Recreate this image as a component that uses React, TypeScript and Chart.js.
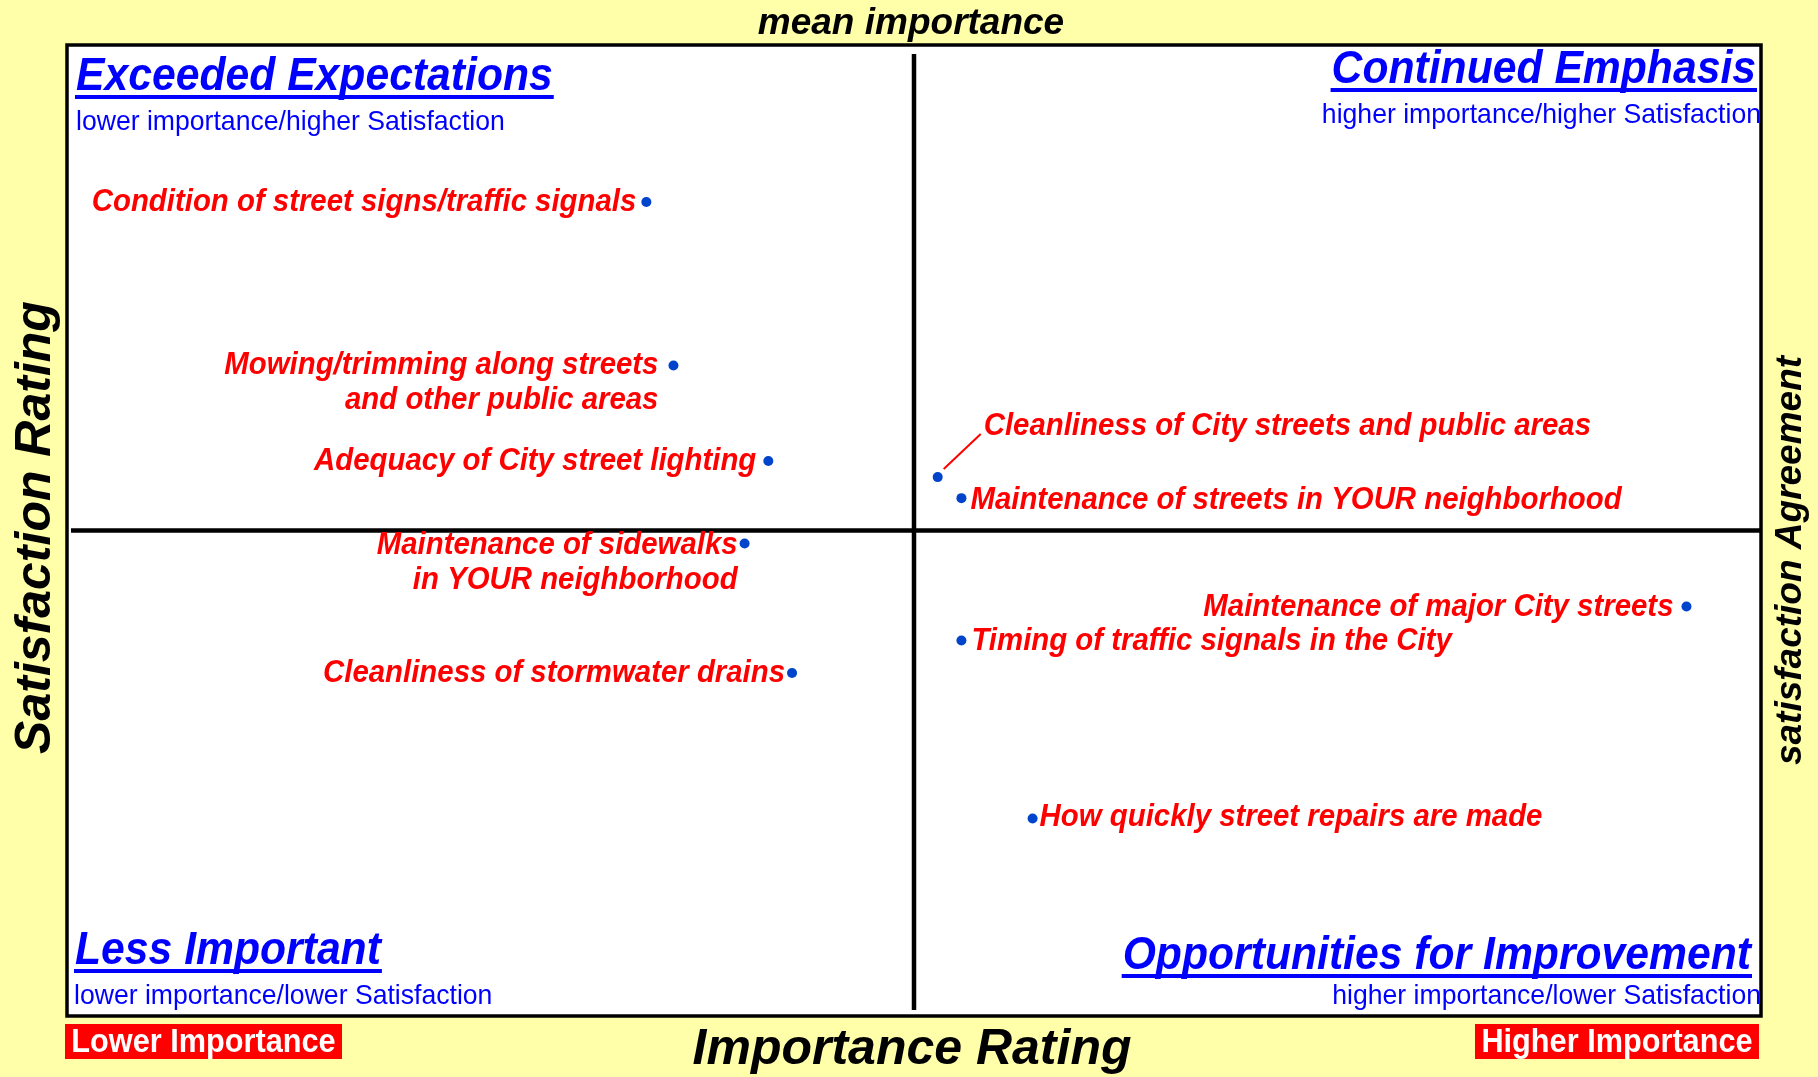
import React, { useEffect, useRef } from "react";
import { Chart, registerables } from "chart.js";

Chart.register(...registerables);

// ---- Data ----
const ITEMS: string[] = [
  "Condition of street signs/traffic signals",
  "Mowing/trimming along streets and other public areas",
  "Adequacy of City street lighting",
  "Cleanliness of City streets and public areas",
  "Maintenance of streets in YOUR neighborhood",
  "Maintenance of sidewalks in YOUR neighborhood",
  "Cleanliness of stormwater drains",
  "Maintenance of major City streets",
  "Timing of traffic signals in the City",
  "How quickly street repairs are made",
];
const IMPORTANCE: number[] = [17.1, 17.9, 20.7, 25.7, 26.4, 20.0, 21.4, 47.8, 26.4, 28.5];
const SATISFACTION: number[] = [80.3, 70.2, 64.3, 63.3, 62.0, 59.2, 51.2, 55.3, 53.2, 42.2];
const LABEL_LINES: string[][] = [
  ["Condition of street signs/traffic signals"],
  ["Mowing/trimming along streets", "and other public areas"],
  ["Adequacy of City street lighting"],
  ["Cleanliness of City streets and public areas"],
  ["Maintenance of streets in YOUR neighborhood"],
  ["Maintenance of sidewalks", "in YOUR neighborhood"],
  ["Cleanliness of stormwater drains"],
  ["Maintenance of major City streets"],
  ["Timing of traffic signals in the City"],
  ["How quickly street repairs are made"],
];
const MEAN_IMPORTANCE = 25;
const MEAN_SATISFACTION = 60;
const X_MIN = 0;
const X_MAX = 50;
const Y_MIN = 30;
const Y_MAX = 90;

const QUADRANT_TITLES: string[] = [
  "Exceeded Expectations",
  "Continued Emphasis",
  "Less Important",
  "Opportunities for Improvement",
];
const QUADRANT_SUBTITLES: string[] = [
  "lower importance/higher Satisfaction",
  "higher importance/higher Satisfaction",
  "lower importance/lower Satisfaction",
  "higher importance/lower Satisfaction",
];
const X_TITLE = "Importance Rating";
const Y_TITLE = "Satisfaction Rating";
const TOP_TITLE = "mean importance";
const RIGHT_TITLE = "satisfaction Agreement";
const LOW_TAG = "Lower Importance";
const HIGH_TAG = "Higher Importance";

// ---- Label placement (offsets from the point, px) ----
const LABEL_PLACE: { side: "left" | "right"; dx: number; dy: number; leader?: boolean }[] = [
  { side: "left", dx: -10, dy: 0 },
  { side: "left", dx: -15, dy: 0 },
  { side: "left", dx: -12, dy: 0 },
  { side: "right", dx: 46, dy: -51, leader: true },
  { side: "right", dx: 9, dy: 2 },
  { side: "left", dx: -7, dy: 2 },
  { side: "left", dx: -7, dy: 0 },
  { side: "left", dx: -13, dy: 1 },
  { side: "right", dx: 10, dy: 1 },
  { side: "right", dx: 7, dy: -1 },
];

const FONT = '"Liberation Sans", Arial, Helvetica, sans-serif';
const BG = "#FFFFAA";

function fillScaled(ctx: CanvasRenderingContext2D, text: string, x: number, y: number, sx: number) {
  ctx.save();
  ctx.translate(x, y);
  ctx.scale(sx, 1);
  ctx.fillText(text, 0, 0);
  ctx.restore();
}

const quadrantPlugin = {
  id: "quadrantPlugin",
  beforeDraw(chart: any) {
    const { ctx, width, height, chartArea } = chart;
    ctx.save();
    ctx.fillStyle = BG;
    ctx.fillRect(0, 0, width, height);
    ctx.fillStyle = "#FFFFFF";
    ctx.fillRect(chartArea.left, chartArea.top, chartArea.right - chartArea.left, chartArea.bottom - chartArea.top);
    ctx.restore();
  },
  beforeDatasetsDraw(chart: any) {
    const { ctx, chartArea, scales } = chart;
    const { left, top, right, bottom } = chartArea;
    const mx = scales.x.getPixelForValue(MEAN_IMPORTANCE);
    const my = scales.y.getPixelForValue(MEAN_SATISFACTION);
    ctx.save();
    ctx.strokeStyle = "#000000";
    ctx.lineWidth = 4.5;
    ctx.beginPath();
    ctx.moveTo(mx, top + 9);
    ctx.lineTo(mx, bottom - 6);
    ctx.stroke();
    ctx.beginPath();
    ctx.moveTo(left + 4, my);
    ctx.lineTo(right, my);
    ctx.stroke();
    ctx.lineWidth = 3.5;
    ctx.strokeRect(left, top, right - left, bottom - top);
    ctx.restore();
  },
  afterDatasetsDraw(chart: any) {
    const { ctx, chartArea, scales, width } = chart;
    const { left, top, right, bottom } = chartArea;
    ctx.save();

    // Point labels
    ctx.font = `italic bold 32px ${FONT}`;
    ctx.fillStyle = "#FF0000";
    ctx.textBaseline = "middle";
    for (let i = 0; i < IMPORTANCE.length; i++) {
      const px = scales.x.getPixelForValue(IMPORTANCE[i]);
      const py = scales.y.getPixelForValue(SATISFACTION[i]);
      const p = LABEL_PLACE[i];
      ctx.textAlign = p.side === "left" ? "right" : "left";
      LABEL_LINES[i].forEach((line, j) => {
        fillScaled(ctx, line, px + p.dx, py + p.dy + j * 35, 0.918);
      });
      if (p.leader) {
        ctx.strokeStyle = "#FF0000";
        ctx.lineWidth = 2;
        ctx.beginPath();
        ctx.moveTo(px + 6, py - 8);
        ctx.lineTo(px + 43, py - 43);
        ctx.stroke();
      }
    }

    // Quadrant titles
    const drawTitle = (text: string, x: number, y: number, align: "left" | "right") => {
      const sx = 0.908;
      ctx.font = `italic bold 47px ${FONT}`;
      ctx.fillStyle = "#0000FF";
      ctx.textAlign = align;
      ctx.textBaseline = "alphabetic";
      fillScaled(ctx, text, x, y, sx);
      const w = ctx.measureText(text).width * sx;
      const x0 = align === "left" ? x : x - w;
      ctx.fillRect(x0 - 1, y + 5, w + 2, 4);
    };
    const drawSub = (text: string, x: number, y: number, align: "left" | "right") => {
      ctx.font = `28px ${FONT}`;
      ctx.fillStyle = "#0000FF";
      ctx.textAlign = align;
      ctx.textBaseline = "alphabetic";
      fillScaled(ctx, text, x, y, 0.95);
    };
    drawTitle(QUADRANT_TITLES[0], left + 9, top + 45, "left");
    drawSub(QUADRANT_SUBTITLES[0], left + 9, top + 85, "left");
    drawTitle(QUADRANT_TITLES[1], right - 5, top + 38, "right");
    drawSub(QUADRANT_SUBTITLES[1], right, top + 78, "right");
    drawTitle(QUADRANT_TITLES[2], left + 8, bottom - 52, "left");
    drawSub(QUADRANT_SUBTITLES[2], left + 7, bottom - 12, "left");
    drawTitle(QUADRANT_TITLES[3], right - 10, bottom - 47, "right");
    drawSub(QUADRANT_SUBTITLES[3], right, bottom - 12, "right");

    // Outer titles
    const mx = scales.x.getPixelForValue(MEAN_IMPORTANCE);
    ctx.fillStyle = "#000000";
    ctx.textAlign = "center";
    ctx.textBaseline = "alphabetic";
    ctx.font = `italic bold 37px ${FONT}`;
    ctx.fillText(TOP_TITLE, mx - 3, top - 11);
    ctx.font = `italic bold 50px ${FONT}`;
    ctx.fillText(X_TITLE, mx - 2, bottom + 48);

    ctx.save();
    ctx.translate(36, (top + bottom) / 2 - 3);
    ctx.rotate(-Math.PI / 2);
    ctx.textBaseline = "middle";
    ctx.font = `italic bold 50px ${FONT}`;
    ctx.fillText(Y_TITLE, 0, 0);
    ctx.restore();

    ctx.save();
    ctx.translate((right + width) / 2 + 1, (top + bottom) / 2 + 30);
    ctx.rotate(-Math.PI / 2);
    ctx.textBaseline = "middle";
    ctx.font = `italic bold 37px ${FONT}`;
    ctx.fillText(RIGHT_TITLE, 0, 0);
    ctx.restore();

    // Red tags
    const drawTag = (text: string, x0: number, x1: number) => {
      const y0 = bottom + 8;
      const h = 35;
      ctx.fillStyle = "#FF0000";
      ctx.fillRect(x0, y0, x1 - x0, h);
      ctx.fillStyle = "#FFFFFF";
      ctx.font = `bold 33px ${FONT}`;
      ctx.textAlign = "center";
      ctx.textBaseline = "middle";
      fillScaled(ctx, text, (x0 + x1) / 2, y0 + h / 2 + 1, 0.93);
    };
    drawTag(LOW_TAG, left - 2, left + 275);
    drawTag(HIGH_TAG, right - 286, right - 2);

    ctx.restore();
  },
};

export default function App() {
  const canvasRef = useRef<HTMLCanvasElement | null>(null);

  useEffect(() => {
    if (!canvasRef.current) return;
    const points = IMPORTANCE.map((x, i) => ({ x, y: SATISFACTION[i] }));
    const chart = new Chart(canvasRef.current, {
      type: "scatter",
      data: {
        datasets: [
          {
            label: "Items",
            data: points,
            pointRadius: 5,
            pointHoverRadius: 5,
            backgroundColor: "#0044CC",
            borderWidth: 0,
          },
        ],
      },
      options: {
        responsive: false,
        animation: false,
        events: [],
        layout: { padding: { left: 67, top: 45, right: 57, bottom: 61 } },
        scales: {
          x: { type: "linear", min: X_MIN, max: X_MAX, display: false },
          y: { type: "linear", min: Y_MIN, max: Y_MAX, display: false },
        },
        plugins: {
          legend: { display: false },
          tooltip: { enabled: false },
        },
      },
      plugins: [quadrantPlugin],
    });
    return () => chart.destroy();
  }, []);

  return (
    <div style={{ position: "fixed", left: 0, top: 0, width: 1818, height: 1077, background: BG }}>
      <canvas ref={canvasRef} width={1818} height={1077} style={{ display: "block" }} />
    </div>
  );
}
